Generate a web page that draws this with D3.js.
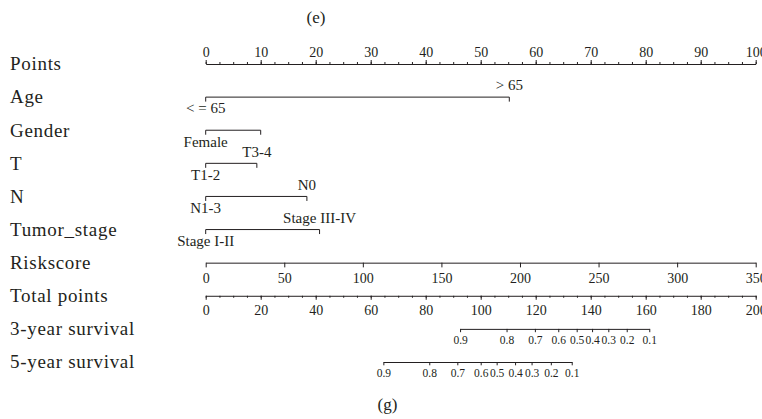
<!DOCTYPE html>
<html><head><meta charset="utf-8">
<script src="https://cdn.jsdelivr.net/npm/d3@7"></script>
<style>
html,body{margin:0;padding:0;background:#fff;}
text{font-family:"Liberation Serif","Times New Roman",serif;fill:#231f20;}
</style></head>
<body><svg id="c" width="762" height="419"></svg>
<script>
// ---------- data ----------
const rowNames = ["Points","Age","Gender","T","N","Tumor_stage","Riskscore","Total points","3-year survival","5-year survival"];
const pointsTicks = [0,10,20,30,40,50,60,70,80,90,100];
const ageLevels = ["< = 65","> 65"];      const agePoints = [0, 55.2];
const genderLevels = ["Female",""];        const genderPoints = [0, 10.0];
const tLevels = ["T1-2","T3-4"];           const tPoints = [0, 9.3];
const nLevels = ["N1-3","N0"];             const nPoints = [0, 18.4];
const stageLevels = ["Stage I-II","Stage III-IV"]; const stagePoints = [0, 20.7];
const riskTicks = [0,50,100,150,200,250,300,350];
const totalTicks = [0,20,40,60,80,100,120,140,160,180,200];
const survLabels = [0.9,0.8,0.7,0.6,0.5,0.4,0.3,0.2,0.1];
const surv3Total = [92.5,109.4,119.7,128.2,134.9,140.5,146.4,153.1,161.3];
const surv5Total = [64.6,81.3,91.5,100.0,105.8,112.5,118.5,125.5,133.1];

// ---------- layout ----------
const svg = d3.select("#c");
const ink = "#231f20";
const x0 = 205.7, x1 = 755.7;
const y = d3.scalePoint().domain(rowNames).range([64, 362]);
const xPts = d3.scaleLinear().domain([0,100]).range([x0,x1]);
const xRisk = d3.scaleLinear().domain([0,350]).range([x0,x1]);
const xTot = d3.scaleLinear().domain([0,200]).range([x0,x1]);

// panel letters
svg.append("text").attr("x",316).attr("y",23).attr("text-anchor","middle").style("font-size","17px").text("(e)");
svg.append("text").attr("x",387.5).attr("y",410).attr("text-anchor","middle").style("font-size","17px").text("(g)");

// row labels
svg.selectAll("text.row").data(rowNames).join("text").attr("class","row")
  .attr("x",10).attr("y",d=>y(d)+6.3)
  .style("font-size","19px").style("letter-spacing","0.7px").text(d=>d);

function styleAxis(g, fs){
  g.attr("font-family",null).attr("font-size",null);
  g.selectAll("path,line").attr("stroke",ink).attr("stroke-width",1);
  g.selectAll("text").style("font-size",fs+"px").attr("fill",ink);
}

// Points axis (top)
const gP = svg.append("g").attr("transform",`translate(0,${y("Points")})`);
gP.append("g").call(d3.axisTop(xPts).tickValues(d3.range(0,100.01,2.5)).tickSize(2).tickSizeOuter(0).tickFormat(""))
  .call(g=>styleAxis(g,14));
gP.append("g").call(d3.axisTop(xPts).tickValues(pointsTicks).tickSize(4).tickSizeOuter(0).tickPadding(3.3).tickFormat(d3.format("d")))
  .call(g=>{styleAxis(g,14); g.select(".domain").remove();});

// factor rows
function factorRow(name, levels, pts){
  const yy = y(name);
  const g = svg.append("g").attr("transform",`translate(0,${yy})`);
  const xs = pts.map(p=>xPts(p));
  const mn = d3.min(xs), mx = d3.max(xs);
  g.append("path").attr("d",`M${mn},4.5V0H${mx}V4.5`).attr("fill","none").attr("stroke",ink).attr("stroke-width",1);
  levels.forEach((lab,i)=>{
    if(!lab) return;
    const above = i % 2 === 1;
    g.append("text").attr("x",xs[i]).attr("y", above ? -6.8 : 16.3)
      .attr("text-anchor","middle").style("font-size","15px").text(lab);
  });
}
factorRow("Age", ageLevels, agePoints);
factorRow("Gender", genderLevels, genderPoints);
factorRow("T", tLevels, tPoints);
factorRow("N", nLevels, nPoints);
factorRow("Tumor_stage", stageLevels, stagePoints);

// Riskscore axis
svg.append("g").attr("transform",`translate(0,${y("Riskscore")})`)
  .call(d3.axisBottom(xRisk).tickValues(riskTicks).tickSize(4.7).tickSizeOuter(0).tickPadding(5.3).tickFormat(d3.format("d")))
  .call(g=>styleAxis(g,14));

// Total points axis
const gT = svg.append("g").attr("transform",`translate(0,${y("Total points")})`);
gT.append("g").call(d3.axisBottom(xTot).tickValues(d3.range(0,200.01,5)).tickSize(2).tickSizeOuter(0).tickFormat(""))
  .call(g=>styleAxis(g,14));
gT.append("g").call(d3.axisBottom(xTot).tickValues(totalTicks).tickSize(4).tickSizeOuter(0).tickPadding(5.3).tickFormat(d3.format("d")))
  .call(g=>{styleAxis(g,14); g.select(".domain").remove();});

// Survival axes
function survAxis(name, totals, dyPad){
  const sc = d3.scaleLinear().domain(survLabels).range(totals.map(t=>xTot(t)));
  svg.append("g").attr("transform",`translate(0,${y(name)})`)
    .call(d3.axisBottom(sc).tickValues(survLabels).tickSize(3.3).tickSizeOuter(0).tickPadding(dyPad).tickFormat(d3.format(".1f")))
    .call(g=>styleAxis(g,11.5));
}
survAxis("3-year survival", surv3Total, 3.2);
survAxis("5-year survival", surv5Total, 3.6);
</script></body></html>
